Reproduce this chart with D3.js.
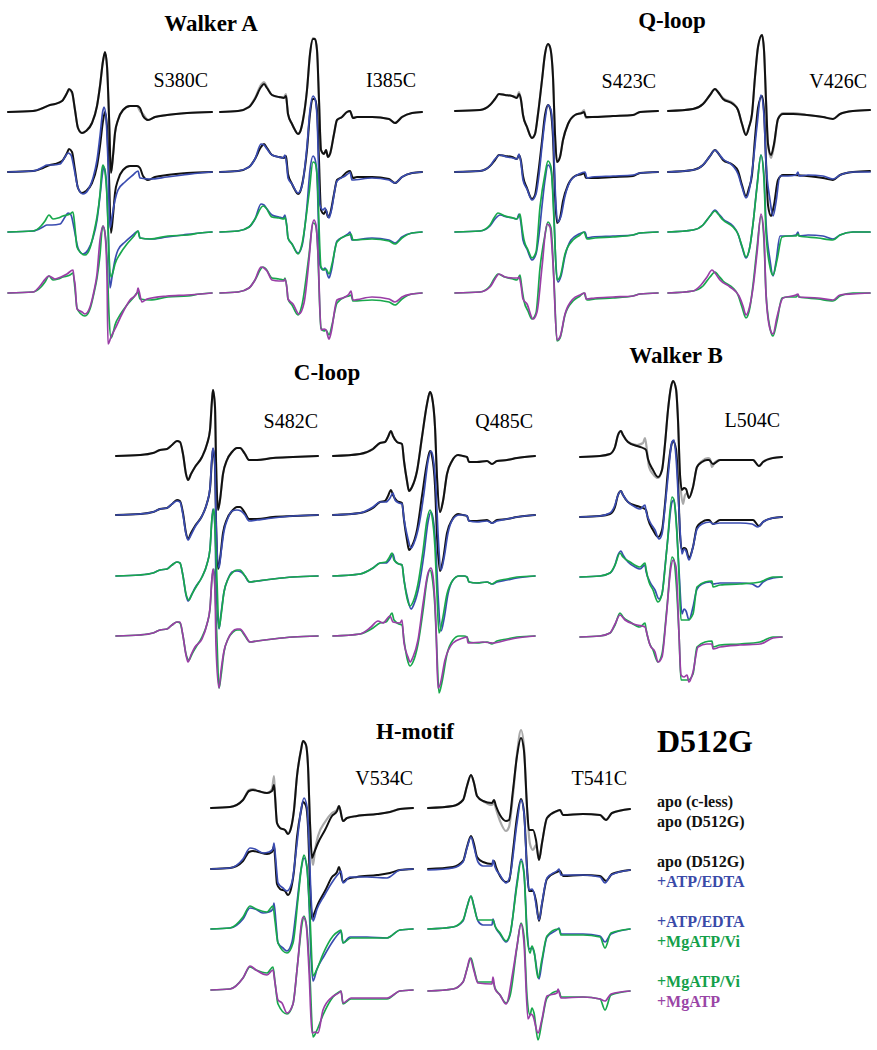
<!DOCTYPE html>
<html lang="en">
<head>
<meta charset="UTF-8">
<title>D512G EPR spectra</title>
<style>
  body { margin: 0; background: #fff; }
  svg text { font-family: "Liberation Serif", "Times New Roman", serif; }
  .title { font-weight: bold; font-size: 23px; }
  .site { font-size: 20px; }
  .legend { font-weight: bold; font-size: 16px; }
  .trace { fill: none; stroke-linejoin: round; stroke-linecap: round; }
</style>
</head>
<body>
<div id="chart"></div>
<script src="https://cdn.jsdelivr.net/npm/d3@7/dist/d3.min.js"></script>
<script>
// spectra: [field position, amplitude] (amplitude up = positive)
var s380cApo = [[0,0],[25,1],[35,4],[42,7],[47,8],[54,11],[59,19],[61,23],[64,20],[67,2],[70,-16],[74,-21],[78,-19],[84,-11],[89,6],[92,26],[95,51],[97,60],[99,46],[101,-4],[103,-61],[105,-44],[107,-21],[110,-8],[115,2],[122,6],[129,6],[132,4],[135,-4],[140,-8],[147,-5],[159,-3],[179,-1],[204,0]];
var s380cCless = [[0,0],[25,1],[35,4],[42,7],[47,8],[54,11],[59,19],[61,22],[64,19],[67,2],[70,-16],[74,-21],[78,-19],[84,-11],[89,6],[92,26],[95,51],[97,59],[99,46],[101,-4],[103,-60],[105,-44],[107,-21],[110,-8],[115,2],[122,6],[129,6],[132,1],[135,-2],[140,-8],[147,-5],[159,-3],[179,-1],[204,0]];
var s380cAtp = [[0,0],[25,1],[35,5],[39,7],[44,7],[52,8],[57,15],[60,19],[63,17],[66,4],[70,-16],[75,-22],[80,-18],[85,-6],[89,12],[92,36],[95,62],[96,65],[98,55],[100,10],[102,-56],[104,-45],[107,-28],[110,-18],[117,-10],[125,-3],[130,1],[132,-6],[142,-7],[159,-5],[175,-3],[192,-1],[204,0]];
var s380cVi = [[0,0],[25,1],[33,6],[37,11],[41,17],[45,13],[50,14],[55,16],[62,18],[65,20],[67,4],[69,-15],[73,-21],[77,-23],[82,-16],[86,0],[89,15],[92,38],[94,63],[95,67],[97,60],[99,35],[101,-22],[103,-45],[105,-40],[107,-32],[112,-22],[119,-12],[126,-4],[130,1],[132,-6],[142,-7],[160,-4],[180,-3],[192,-1],[204,0]];
var s380cMg = [[0,0],[25,1],[32,7],[35,11],[41,17],[47,14],[53,16],[59,19],[65,23],[66,15],[67,9],[69,-16],[74,-19],[77,-21],[82,-14],[86,2],[89,19],[92,53],[95,67],[97,59],[99,16],[100,-51],[103,-44],[107,-36],[114,-21],[122,-7],[129,0],[130,5],[131,2],[134,-9],[139,-6],[159,-3],[179,-2],[204,0]];

var i385cApo = [[0,0],[18,1],[29,5],[35,13],[41,25],[44,28],[47,24],[52,17],[59,15],[64,14],[66,16],[67,8],[68,-2],[72,-12],[75,-18],[78,-22],[80,-20],[83,-8],[87,22],[90,58],[93,73],[95,73],[97,62],[99,12],[101,-38],[104,-42],[106,-38],[108,-45],[110,-42],[114,-22],[117,-8],[122,-5],[127,0],[130,1],[133,-6],[137,-5],[152,-5],[169,-7],[175,-11],[182,-5],[192,-1],[202,0]];
var i385cCless = [[0,0],[18,1],[29,5],[35,14],[41,27],[44,30],[47,25],[52,17],[59,15],[64,15],[66,18],[67,8],[68,-2],[72,-12],[75,-18],[78,-22],[80,-20],[83,-8],[87,22],[90,58],[93,74],[95,73],[97,62],[99,12],[101,-38],[104,-42],[106,-38],[108,-45],[110,-42],[114,-22],[117,-8],[122,-5],[127,0],[130,1],[133,-6],[137,-5],[152,-5],[169,-7],[175,-11],[182,-5],[192,-1],[202,0]];
var i385cAtp = [[0,0],[18,1],[29,5],[35,13],[41,28],[44,27],[47,23],[52,17],[59,15],[63,14],[65,17],[67,4],[68,-6],[72,-12],[78,-21],[82,-14],[87,26],[90,62],[93,76],[95,73],[97,56],[100,-33],[103,-38],[105,-36],[109,-46],[111,-40],[117,-9],[125,-4],[129,-1],[130,0],[132,-8],[152,-6],[169,-8],[175,-11],[182,-5],[192,-1],[202,0]];
var i385cVi = [[0,0],[18,1],[29,5],[35,13],[43,26],[46,24],[52,15],[59,14],[64,13],[65,15],[67,4],[68,-6],[72,-12],[78,-22],[82,-12],[89,38],[93,70],[95,69],[97,58],[101,-35],[104,-38],[106,-37],[109,-42],[112,-32],[117,-10],[125,-4],[129,-3],[131,-2],[133,-8],[152,-7],[169,-9],[175,-12],[182,-6],[192,-1],[202,0]];
var i385cMg = [[0,0],[18,1],[29,5],[35,13],[41,26],[44,25],[47,22],[52,13],[59,12],[64,12],[65,14],[67,4],[68,-6],[73,-11],[79,-21],[84,-10],[89,33],[92,66],[94,73],[96,68],[98,40],[101,-37],[104,-36],[106,-37],[109,-46],[111,-40],[117,-7],[125,-4],[129,-1],[131,2],[133,-7],[152,-4],[169,-6],[175,-9],[182,-4],[192,-1],[202,0]];

var s423cApo = [[0,0],[25,1],[35,6],[40,12],[44,17],[50,16],[57,15],[62,13],[64,17],[66,11],[68,-4],[72,-16],[77,-27],[80,-23],[83,-3],[87,31],[90,57],[93,67],[95,64],[98,34],[100,-23],[102,-51],[105,-46],[108,-29],[113,-13],[120,-4],[127,-2],[129,-1],[131,-6],[137,-6],[158,-5],[178,-4],[185,-1],[203,0]];
var s423cCless = [[0,0],[25,1],[35,6],[40,12],[44,17],[50,16],[57,15],[62,14],[64,19],[66,11],[68,-4],[72,-16],[77,-27],[80,-23],[83,-3],[87,31],[90,57],[93,67],[95,64],[98,34],[100,-23],[102,-51],[105,-46],[108,-29],[113,-13],[120,-4],[127,-1],[129,1],[131,-7],[137,-6],[158,-5],[178,-4],[185,-1],[203,0]];
var s423cAtp = [[0,0],[25,1],[35,6],[40,13],[45,17],[52,15],[58,14],[62,13],[64,18],[66,9],[68,-8],[72,-17],[77,-28],[81,-22],[84,-3],[87,26],[90,52],[93,67],[96,62],[98,40],[101,-34],[103,-50],[106,-44],[110,-24],[116,-8],[124,-2],[130,0],[132,-6],[137,-5],[158,-4],[178,-3],[185,-1],[203,0]];
var s423cVi = [[0,0],[25,1],[35,7],[39,14],[43,19],[50,16],[58,14],[62,13],[65,18],[67,4],[69,-8],[73,-18],[77,-26],[81,-20],[85,25],[90,58],[93,71],[96,65],[99,12],[102,-48],[105,-45],[110,-22],[118,-8],[125,-3],[129,0],[132,-7],[140,-6],[158,-5],[178,-3],[185,-1],[203,0]];
var s423cMg = [[0,0],[25,1],[35,6],[40,14],[44,19],[50,16],[58,15],[63,15],[64,16],[66,8],[68,-6],[72,-11],[78,-26],[82,-19],[87,26],[92,69],[95,66],[98,30],[102,-47],[105,-44],[110,-21],[118,-6],[125,-2],[130,0],[131,-6],[140,-5],[158,-4],[178,-3],[185,-1],[203,0]];

var v426cApo = [[0,0],[25,2],[35,7],[42,16],[47,22],[50,19],[55,12],[65,7],[70,1],[74,-13],[78,-24],[81,-16],[84,-3],[87,34],[90,64],[94,76],[96,61],[98,11],[100,-33],[103,-44],[106,-33],[110,-8],[115,-3],[125,-3],[139,-4],[155,-6],[165,-8],[172,-3],[185,0],[202,1]];
var v426cCless = [[0,0],[25,2],[35,7],[42,16],[47,22],[50,19],[55,13],[65,8],[70,1],[74,-13],[78,-24],[81,-16],[84,-3],[87,34],[90,64],[94,76],[96,61],[98,11],[100,-33],[103,-47],[106,-35],[110,-8],[115,-2],[125,-2],[139,-4],[155,-6],[165,-8],[172,-3],[185,0],[202,1]];
var v426cAtp = [[0,0],[25,2],[35,7],[42,16],[47,22],[50,19],[55,13],[65,6],[70,-2],[74,-15],[78,-26],[82,-14],[85,8],[89,46],[93,77],[96,56],[98,10],[102,-28],[105,-44],[108,-30],[112,-4],[120,-4],[128,-3],[130,0],[131,-4],[140,-3],[155,-4],[165,-7],[172,-3],[185,0],[202,0]];
var v426cVi = [[0,0],[25,2],[35,7],[42,16],[47,21],[50,18],[55,12],[65,5],[70,-2],[74,-14],[78,-25],[82,-14],[85,8],[89,45],[93,77],[96,52],[98,0],[102,-35],[105,-43],[109,-28],[114,-5],[120,-4],[128,-4],[130,-2],[131,-4],[150,-6],[165,-8],[172,-3],[185,0],[202,0]];
var v426cMg = [[0,0],[25,2],[33,8],[39,16],[44,23],[47,20],[52,13],[62,6],[71,-3],[75,-13],[78,-22],[82,-12],[85,5],[89,40],[93,79],[96,58],[98,-1],[102,-36],[105,-41],[109,-24],[115,-5],[128,-2],[130,-1],[131,-4],[150,-5],[165,-7],[172,-2],[185,-1],[202,0]];

var s482cApo = [[0,0],[24,1],[37,3],[44,6],[51,7],[56,11],[61,15],[64,14],[67,2],[70,-18],[72,-24],[75,-18],[79,-11],[86,-1],[91,12],[94,26],[96,56],[97,66],[99,49],[100,-4],[102,-54],[104,-44],[107,-18],[111,-4],[116,4],[121,8],[124,8],[129,2],[133,-4],[141,-4],[157,-2],[177,-1],[202,0]];
var s482cAtp = [[0,0],[24,1],[37,3],[44,6],[51,7],[56,11],[61,14],[64,13],[67,0],[70,-19],[72,-25],[75,-20],[79,-12],[86,-1],[91,12],[94,27],[96,58],[97,67],[99,48],[100,-5],[103,-53],[105,-38],[108,-16],[112,-3],[116,4],[121,5],[125,4],[129,0],[133,-6],[141,-5],[157,-3],[177,-1],[202,0]];
var s482cVi = [[0,0],[24,1],[37,3],[44,6],[51,7],[56,11],[61,14],[64,13],[67,0],[70,-18],[73,-24],[76,-18],[80,-11],[86,-1],[91,12],[94,27],[96,58],[98,67],[99,48],[101,-5],[103,-52],[105,-40],[108,-16],[112,-3],[117,4],[121,6],[124,6],[129,0],[134,-6],[141,-5],[157,-3],[177,-1],[202,0]];
var s482cMg = [[0,0],[24,1],[37,3],[44,6],[51,7],[56,11],[61,14],[64,14],[67,0],[70,-19],[72,-26],[75,-19],[79,-11],[86,-3],[91,12],[94,28],[96,58],[97,67],[99,46],[100,-10],[103,-52],[105,-35],[108,-15],[112,-3],[116,4],[121,7],[124,7],[129,1],[134,-6],[141,-5],[157,-3],[177,-1],[202,0]];

var q485cApo = [[0,0],[27,2],[40,7],[47,13],[52,14],[55,19],[58,25],[60,20],[64,14],[69,12],[71,-5],[74,-25],[76,-35],[79,-31],[84,-15],[89,19],[94,52],[97,64],[99,59],[102,29],[104,-21],[107,-56],[110,-45],[114,-18],[119,-5],[125,1],[130,0],[134,-1],[136,-6],[144,-6],[154,-5],[159,-8],[164,-5],[174,-4],[184,-2],[202,0]];
var q485cAtp = [[0,0],[27,2],[40,8],[47,13],[53,13],[57,17],[60,22],[62,15],[66,12],[69,11],[71,-4],[75,-24],[78,-33],[81,-28],[86,-10],[91,22],[95,54],[98,64],[100,58],[103,25],[105,-18],[108,-55],[111,-43],[115,-18],[120,-4],[126,0],[131,0],[134,-1],[136,-6],[144,-7],[154,-6],[159,-8],[164,-6],[174,-4],[184,-2],[202,0]];
var q485cVi = [[0,0],[27,2],[40,8],[47,13],[53,14],[56,18],[59,23],[61,16],[66,12],[69,11],[71,-4],[74,-22],[77,-30],[80,-26],[85,-8],[90,25],[94,56],[97,66],[99,60],[102,28],[104,-18],[106,-57],[109,-46],[114,-18],[120,-4],[126,0],[131,0],[134,-1],[136,-6],[144,-7],[154,-6],[159,-8],[164,-5],[174,-3],[184,-1],[202,0]];
var q485cMg = [[0,0],[27,2],[38,9],[45,15],[50,13],[57,20],[60,14],[67,13],[69,16],[71,-7],[75,-21],[77,-26],[80,-21],[85,-4],[90,32],[95,63],[98,68],[100,60],[103,10],[105,-52],[107,-49],[112,-24],[120,-7],[130,-2],[134,-1],[135,-7],[150,-6],[160,-7],[174,-4],[184,-2],[202,0]];

var l504cApo = [[0,0],[20,1],[30,3],[35,10],[38,22],[41,26],[43,22],[48,15],[57,11],[63,9],[66,7],[68,-2],[73,-13],[78,-20],[82,-13],[85,13],[88,47],[91,70],[93,76],[96,68],[98,37],[100,-17],[102,-33],[104,-31],[106,-32],[109,-41],[113,-30],[117,-10],[122,-5],[127,-3],[129,-3],[133,-7],[140,-3],[160,-3],[173,-3],[179,-9],[183,-5],[193,-1],[202,0]];
var l504cCless = [[0,0],[20,1],[30,3],[35,10],[38,22],[41,26],[43,22],[48,15],[57,12],[63,14],[65,19],[67,6],[69,-10],[73,-17],[78,-21],[82,-13],[85,13],[88,47],[91,70],[93,76],[96,68],[98,37],[100,-20],[103,-47],[105,-38],[107,-36],[109,-41],[113,-30],[117,-10],[122,-4],[128,-1],[130,-2],[132,-10],[135,-5],[140,-3],[160,-3],[173,-3],[179,-9],[183,-5],[193,-1],[202,0]];
var l504cAtp = [[0,0],[20,1],[30,4],[35,12],[38,22],[41,26],[43,22],[48,15],[55,10],[60,8],[65,12],[66,6],[70,-5],[75,-13],[79,-22],[82,-17],[85,10],[88,40],[92,75],[94,77],[96,60],[99,7],[102,-37],[104,-32],[106,-34],[109,-43],[113,-30],[117,-12],[122,-7],[130,-5],[133,-7],[140,-6],[160,-6],[172,-7],[178,-10],[183,-5],[193,-1],[202,0]];
var l504cVi = [[0,0],[20,1],[30,4],[35,12],[40,24],[43,20],[50,15],[60,10],[65,14],[66,8],[69,-5],[73,-13],[78,-25],[82,-17],[87,30],[92,80],[94,77],[96,57],[99,3],[101,-43],[108,-43],[113,-37],[117,-10],[125,-5],[132,-4],[133,-10],[140,-8],[160,-7],[180,-5],[193,0],[202,0]];
var l504cMg = [[0,0],[20,1],[30,4],[35,13],[40,22],[45,17],[57,12],[65,10],[67,3],[70,-8],[75,-15],[78,-25],[82,-20],[86,17],[91,70],[93,77],[96,70],[99,3],[101,-38],[104,-40],[107,-38],[109,-45],[113,-35],[118,-10],[127,-7],[132,-7],[133,-12],[140,-10],[160,-8],[180,-7],[193,-1],[202,0]];

var v534cApo = [[0,0],[19,1],[32,8],[38,17],[42,18],[47,17],[56,15],[61,17],[63,23],[64,12],[66,-15],[69,-20],[74,-22],[77,-26],[80,-20],[83,-2],[86,32],[90,58],[92,67],[95,63],[97,42],[99,-15],[101,-50],[103,-45],[107,-35],[114,-22],[121,-8],[126,-3],[128,2],[132,-13],[136,-10],[146,-8],[166,-6],[179,-4],[189,-1],[202,0]];
var v534cCless = [[0,0],[19,1],[32,8],[38,18],[42,19],[47,17],[56,15],[61,19],[63,32],[64,14],[66,-15],[69,-20],[74,-22],[77,-25],[80,-20],[83,-2],[86,32],[90,58],[92,67],[95,63],[97,42],[99,-15],[102,-57],[104,-42],[107,-28],[114,-14],[121,-5],[126,-2],[128,2],[132,-13],[136,-10],[146,-8],[166,-6],[179,-4],[189,-1],[202,0]];
var v534cAtp = [[0,0],[19,1],[32,10],[39,21],[44,20],[52,16],[58,17],[62,20],[63,26],[65,6],[67,-14],[72,-19],[76,-22],[81,-13],[85,17],[90,59],[93,71],[96,62],[98,27],[100,-27],[102,-52],[106,-40],[113,-27],[122,-12],[129,-3],[130,-2],[132,-14],[139,-8],[156,-8],[176,-9],[189,-1],[202,0]];
var v534cVi = [[0,0],[19,1],[32,12],[39,23],[45,20],[56,17],[62,23],[64,8],[67,-14],[76,-24],[82,-14],[87,30],[91,66],[93,74],[96,60],[99,12],[102,-47],[106,-40],[112,-25],[122,-7],[128,-2],[130,-1],[132,-14],[140,-9],[156,-9],[176,-9],[189,-1],[202,0]];
var v534cMg = [[0,0],[19,1],[32,12],[39,24],[45,20],[56,15],[62,20],[64,7],[67,-10],[71,-13],[76,-23],[82,-14],[86,20],[92,73],[95,67],[98,20],[101,-43],[104,-42],[107,-43],[112,-20],[121,-7],[129,-2],[130,-1],[132,-13],[140,-8],[156,-8],[176,-8],[189,-1],[202,0]];

var t541cApo = [[0,1],[25,3],[35,9],[39,23],[43,34],[46,26],[49,13],[55,8],[64,6],[66,9],[68,3],[72,-6],[78,-12],[81,-11],[85,19],[89,53],[93,71],[96,58],[99,3],[101,-21],[105,-21],[108,-31],[111,-51],[114,-34],[119,-9],[129,-2],[132,-1],[135,-6],[155,-5],[172,-6],[178,-11],[184,-4],[202,0]];
var t541cCless = [[0,1],[25,3],[35,9],[39,23],[43,34],[46,26],[49,13],[55,8],[64,4],[66,6],[68,0],[72,-12],[78,-22],[81,-18],[85,14],[89,55],[93,79],[96,62],[99,0],[102,-35],[105,-41],[108,-36],[111,-51],[114,-34],[119,-9],[129,-2],[132,-1],[135,-6],[155,-5],[172,-6],[178,-11],[184,-4],[202,0]];
var t541cAtp = [[0,0],[25,2],[35,8],[39,22],[43,33],[46,23],[50,8],[55,4],[64,4],[65,10],[67,3],[72,-5],[78,-13],[82,-6],[89,47],[93,70],[96,57],[99,0],[101,-20],[104,-19],[106,-23],[111,-50],[114,-33],[119,-8],[130,0],[131,1],[133,-5],[155,-5],[172,-7],[177,-13],[183,-5],[202,0]];
var t541cVi = [[0,0],[25,2],[35,9],[39,22],[43,33],[46,22],[50,9],[64,9],[65,9],[67,3],[72,-4],[78,-12],[82,-5],[89,44],[93,68],[96,55],[99,-5],[102,-24],[104,-17],[106,-22],[110,-49],[114,-30],[119,-7],[130,0],[131,0],[133,-6],[155,-6],[172,-8],[177,-19],[183,-4],[202,0]];
var t541cMg = [[0,0],[25,2],[35,9],[39,22],[42,33],[46,20],[50,8],[64,7],[65,14],[67,2],[72,-4],[78,-13],[85,20],[89,45],[93,67],[96,48],[100,-28],[103,-23],[105,-25],[110,-42],[114,-28],[119,-5],[129,-2],[130,2],[133,-7],[155,-6],[172,-8],[177,-10],[183,-3],[202,0]];

var sites = ["S380C", "I385C", "S423C", "V426C", "S482C", "Q485C", "L504C", "V534C", "T541C"];
var spectraBySite = {
  S380C: {cless: s380cCless, apo: s380cApo, atp: s380cAtp, vi: s380cVi, mg: s380cMg},
  I385C: {cless: i385cCless, apo: i385cApo, atp: i385cAtp, vi: i385cVi, mg: i385cMg},
  S423C: {cless: s423cCless, apo: s423cApo, atp: s423cAtp, vi: s423cVi, mg: s423cMg},
  V426C: {cless: v426cCless, apo: v426cApo, atp: v426cAtp, vi: v426cVi, mg: v426cMg},
  S482C: {cless: s482cApo, apo: s482cApo, atp: s482cAtp, vi: s482cVi, mg: s482cMg},
  Q485C: {cless: q485cApo, apo: q485cApo, atp: q485cAtp, vi: q485cVi, mg: q485cMg},
  L504C: {cless: l504cCless, apo: l504cApo, atp: l504cAtp, vi: l504cVi, mg: l504cMg},
  V534C: {cless: v534cCless, apo: v534cApo, atp: v534cAtp, vi: v534cVi, mg: v534cMg},
  T541C: {cless: t541cCless, apo: t541cApo, atp: t541cAtp, vi: t541cVi, mg: t541cMg}
};
var groups = ["Walker A", "Q-loop", "C-loop", "Walker B", "H-motif"];
var rowPairs = [["cless", "apo"], ["apo", "atp"], ["atp", "vi"], ["vi", "mg"]];
var legendLines = [
  ["apo (c-less)", "apo"], ["apo (D512G)", "apo"],
  ["apo (D512G)", "apo"], ["+ATP/EDTA", "atp"],
  ["+ATP/EDTA", "atp"], ["+MgATP/Vi", "vi"],
  ["+MgATP/Vi", "vi"], ["+MgATP", "mg"]
];

// layout
var width = 877, height = 1050;
var colors = {cless: "#a9a9a9", apo: "#111111", atp: "#3a4cb0", vi: "#18a84c", mg: "#9a3ea6"};
var textColors = {apo: "#111111", atp: "#3a4aa8", vi: "#14a04a", mg: "#9a45a6"};
var strokeW = {cless: 2.2, apo: 2, atp: 1.7, vi: 1.7, mg: 1.7};
var panelPos = {
  S380C: {left: 8,   base: [112, 172, 232, 293], lx: 208, ly: 87},
  I385C: {left: 220, base: [112, 172, 232, 293], lx: 416, ly: 87},
  S423C: {left: 455, base: [111, 172, 232, 293], lx: 656, ly: 88},
  V426C: {left: 668, base: [111, 172, 232, 293], lx: 867, ly: 88},
  S482C: {left: 116, base: [456, 515, 576, 636], lx: 318, ly: 428},
  Q485C: {left: 333, base: [456, 515, 576, 636], lx: 533, ly: 428},
  L504C: {left: 580, base: [457, 517, 577, 637], lx: 780, ly: 427},
  V534C: {left: 211, base: [808, 869, 929, 990], lx: 413, ly: 785},
  T541C: {left: 428, base: [809, 870, 929, 991], lx: 627, ly: 785}
};
var groupPos = {
  "Walker A": [211, 31], "Q-loop": [672, 28], "C-loop": [327, 380],
  "Walker B": [676, 363], "H-motif": [415, 739]
};

var svg = d3.select("#chart").append("svg")
  .attr("width", width).attr("height", height)
  .style("background", "#fff");

sites.forEach(function (site) {
  var p = panelPos[site];
  var x = d3.scaleLinear().domain([0, 203]).range([p.left, p.left + 203]);
  var g = svg.append("g").attr("class", "panel");
  rowPairs.forEach(function (pair, i) {
    var b = p.base[i];
    var y = d3.scaleLinear().domain([-100, 100]).range([b + 100, b - 100]);
    var line = d3.line()
      .x(function (d) { return x(d[0]); })
      .y(function (d) { return y(d[1]); })
      .curve(d3.curveMonotoneX);
    pair.forEach(function (key) {
      g.append("path")
        .attr("class", "trace")
        .attr("d", line(spectraBySite[site][key]))
        .attr("stroke", colors[key])
        .attr("stroke-width", strokeW[key]);
    });
  });
  g.append("text").attr("class", "site")
    .attr("x", p.lx).attr("y", p.ly)
    .attr("text-anchor", "end")
    .text(site);
});

groups.forEach(function (name) {
  svg.append("text").attr("class", "title")
    .attr("x", groupPos[name][0]).attr("y", groupPos[name][1])
    .attr("text-anchor", "middle")
    .text(name);
});

svg.append("text")
  .attr("x", 657).attr("y", 752)
  .style("font-weight", "bold").style("font-size", "32px")
  .text("D512G");

var legendY = [807, 827, 867, 887, 927, 947, 987, 1007];
svg.selectAll(".legend").data(legendLines).enter()
  .append("text").attr("class", "legend")
  .attr("x", 657)
  .attr("y", function (d, i) { return legendY[i]; })
  .attr("fill", function (d) { return textColors[d[1]]; })
  .text(function (d) { return d[0]; });
</script>
</body>
</html>
